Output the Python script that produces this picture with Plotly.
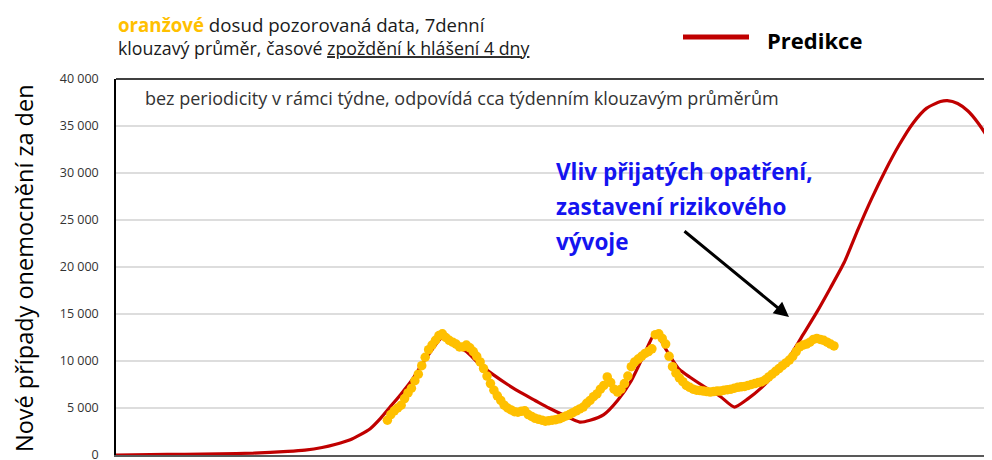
import plotly.graph_objects as go

# ---------------- data ----------------
# observed 7-day moving average (orange dots), one value per day starting at day 79
obs_start_day = 79
obs_values = [
    3700, 4300, 4700, 5000, 5300, 6000, 6600, 7100, 7900, 8600,
    9500, 10400, 11200, 11700, 12200, 12700, 12900, 12500, 12200, 12000,
    11800, 11500, 11500, 11700, 11400, 11000, 10500, 9900, 9200, 8400,
    7600, 6900, 6300, 5800, 5300, 5000, 4800, 4600, 4550, 4650,
    4700, 4300, 4100, 3900, 3800, 3700, 3600, 3650, 3700, 3750,
    3850, 4000, 4150, 4300, 4500, 4700, 4900, 5100, 5500, 5800,
    6200, 6500, 7000, 7400, 8300, 7700, 7000, 6700, 7000, 7600,
    8400, 9400, 9900, 10200, 10500, 10800, 11000, 11300, 12800, 12900,
    12400, 11800, 10500, 9400, 8700, 8200, 7800, 7400, 7200, 7000,
    6900, 6850, 6800, 6750, 6700, 6750, 6800, 6800, 6900, 6950,
    7000, 7100, 7200, 7250, 7300, 7400, 7500, 7600, 7700, 7800,
    8000, 8300, 8600, 8900, 9200, 9500, 9800, 10100, 10500, 11000,
    11500, 11700, 11800, 12000, 12300, 12400, 12300, 12200, 12000, 11800,
    11600,
]
obs_days = list(range(obs_start_day, obs_start_day + len(obs_values)))

# prediction (red line)
pred_days = [0, 10, 20, 30, 40, 50, 55, 60, 64, 68, 71, 74, 77, 80, 83, 86, 89, 92, 95,
             98, 102, 106, 110, 114, 118, 122, 126, 130, 135, 138, 142, 146, 150, 154, 157,
             160, 162, 164, 167, 172, 176, 180, 184, 188, 192, 196, 200, 204, 208, 212,
             216, 220, 224, 228, 232, 236, 240, 242, 245, 248, 251, 255, 258]
pred_values = [0, 50, 80, 130, 200, 380, 520, 800, 1150, 1600, 2150, 2800, 3900, 5200, 6500,
               7900, 9600, 11200, 12500,
               11900, 11000, 9600, 8500, 7500, 6600, 5800, 5000, 4300, 3500, 3700, 4300, 5800,
               7900, 10900, 13000,
               11300, 10100, 9100, 8300, 7100, 6200, 5100, 6000, 7200, 8700, 10400, 12800,
               15200, 17800, 20500,
               24000, 27300, 30300, 33000, 35300, 36900, 37600, 37700, 37400, 36600, 35300, 33000,
               30800]

y_tick_values = [0, 5000, 10000, 15000, 20000, 25000, 30000, 35000, 40000]
y_tick_labels = ["0", "5 000", "10 000", "15 000", "20 000", "25 000", "30 000", "35 000", "40 000"]

note_lines = ["Vliv přijatých opatření,", "zastavení rizikového", "vývoje"]

# ---------------- layout helpers ----------------
# the page body has an 8px margin, so the figure is drawn 8px right/down
OFF = 8
W, H = 992 - OFF, 460 - OFF
PLOT_L, PLOT_T, PLOT_B = 116, 79, 455          # screen pixels
L, T = PLOT_L - OFF, PLOT_T - OFF
B = H - (PLOT_B - OFF)
R = 0
PW, PH = W - L - R, H - T - B
DAY_PX = 876 / 255                             # pixels per day
X_MAX = PW / DAY_PX


def px(x):
    return (x - PLOT_L) / PW


def py(y):
    return (PLOT_B - y) / PH


FONT = "Open Sans"

fig = go.Figure()
fig.add_trace(go.Scatter(
    x=pred_days, y=pred_values, mode="lines", name="Predikce",
    line=dict(color="#C00000", width=3.2, shape="spline", smoothing=0.6),
    showlegend=False, hoverinfo="skip",
))
fig.add_trace(go.Scatter(
    x=obs_days, y=obs_values, mode="markers", name="pozorovaná data",
    marker=dict(color="#FFC000", size=9.5, line=dict(width=0)), showlegend=False,
))

title_text = (
    '<span style="font-size:18.7px"><b><span style="color:#FFC000">oranžové</span></b> '
    'dosud pozorovaná data, </span><span style="font-size:18.5px">7denní</span><br>'
    'klouzavý průměr, časové <span style="text-decoration:underline">zpoždění k hlášení 4 dny</span>'
)

annotations = [
    dict(x=px(116), y=py(36), xref="paper", yref="paper", xanchor="left", yanchor="middle",
         text=title_text, align="left",
         showarrow=False, font=dict(family=FONT, size=17.8, color="#1a1a1a")),
    dict(x=px(765), y=py(40), xref="paper", yref="paper", xanchor="left", yanchor="middle",
         text="<b>Predikce</b>", showarrow=False,
         font=dict(family=FONT, size=22, color="#000000")),
    dict(x=px(143), y=py(98), xref="paper", yref="paper", xanchor="left", yanchor="middle",
         text="bez periodicity v rámci týdne, odpovídá cca týdenním klouzavým průměrům",
         showarrow=False, font=dict(family=FONT, size=18, color="#333333")),
    dict(x=px(789), y=py(317), xref="paper", yref="paper", ax=-106, ay=-87,
         axref="pixel", ayref="pixel", text="", showarrow=True,
         arrowhead=2, arrowsize=1, arrowwidth=3, arrowcolor="#000000"),
    dict(x=px(24), y=py(268), xref="paper", yref="paper", xanchor="center", yanchor="middle",
         text="Nové případy onemocnění za den", textangle=-90, showarrow=False,
         borderpad=0, font=dict(family=FONT, size=23.5, color="#000000")),
]
for i, line in enumerate(note_lines):
    annotations.append(dict(
        x=px(554), y=py(171 + 35 * i), xref="paper", yref="paper",
        xanchor="left", yanchor="middle", text="<b>" + line + "</b>",
        showarrow=False, font=dict(family=FONT, size=22.5, color="#1414F0")))

shapes = [
    # legend sample line
    dict(type="line", xref="paper", yref="paper", x0=px(683), x1=px(749), y0=py(37), y1=py(37),
         line=dict(color="#C00000", width=5)),
    # top frame line
    dict(type="line", xref="paper", yref="paper", x0=0, x1=1, y0=1, y1=1,
         line=dict(color="#000000", width=1.5)),
]

fig.update_layout(
    width=W, height=H,
    margin=dict(l=L, r=R, t=T, b=B, pad=0, autoexpand=False),
    paper_bgcolor="white", plot_bgcolor="white",
    showlegend=False,
    annotations=annotations, shapes=shapes,
    font=dict(family=FONT),
)
fig.update_xaxes(range=[0, X_MAX], showticklabels=False, showgrid=False, zeroline=False,
                 showline=True, linecolor="#595959", linewidth=2, ticks="", automargin=False)
fig.update_yaxes(range=[0, 40000], tickvals=y_tick_values, ticktext=y_tick_labels,
                 showgrid=True, gridcolor="#DDDDDD", gridwidth=1.5, zeroline=False,
                 showline=True, linecolor="#000000", linewidth=1.5, automargin=False,
                 ticks="", ticklabelstandoff=13, ticklabeloverflow="allow",
                 tickfont=dict(family=FONT, size=12.5, color="#333333"))

fig.write_html("out.html")
